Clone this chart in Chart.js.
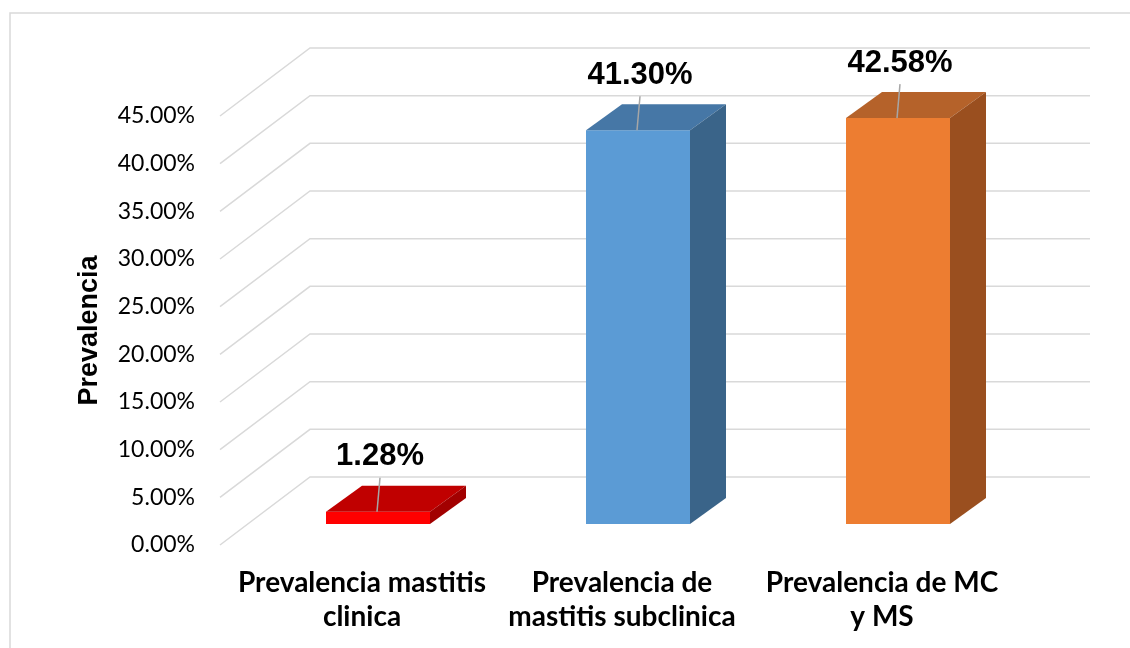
<!DOCTYPE html>
<html>
<head>
<meta charset="utf-8">
<script src="https://cdn.jsdelivr.net/npm/chart.js"></script>
<style>
body { margin: 0; background: #fff; }
</style>
</head>
<body>
<canvas id="barChart" width="1130" height="648"></canvas>
<script>
var categories = [
    ['Prevalencia mastitis', 'clinica'],
    ['Prevalencia de', 'mastitis subclinica'],
    ['Prevalencia de MC', 'y MS']
];
var prevalence = [1.28, 41.30, 42.58];
var yTicks = [0, 5, 10, 15, 20, 25, 30, 35, 40, 45];

var frontColors = ['#FF0000', '#5B9BD5', '#ED7D31'];
var topColors = ['#C00000', '#4677A6', '#B5622A'];
var sideColors = ['#A20000', '#3A6489', '#9A4F1F'];

// fake 3d: depth of the walls and of the bars
var wallDx = 90, wallDy = 68;
var barShiftX = 28, barShiftY = 21;
var barDx = 36, barDy = 26;

var fake3d = {
    id: 'fake3d',
    beforeDraw: function (chart) {
        var ctx = chart.ctx;
        var a = chart.chartArea, ys = chart.scales.y;
        ctx.save();
        ctx.strokeStyle = '#D9D9D9';
        ctx.lineWidth = 1.5;
        ctx.strokeRect(10, 13, 1200, 700);
        ys.ticks.forEach(function (t) {
            var y = ys.getPixelForValue(t.value);
            ctx.beginPath();
            ctx.moveTo(a.left, y);
            ctx.lineTo(a.left + wallDx, y - wallDy);
            ctx.lineTo(a.right + wallDx, y - wallDy);
            ctx.stroke();
        });
        ctx.restore();
    },
    beforeDatasetsDraw: function (chart) {
        chart.ctx.save();
        chart.ctx.translate(barShiftX, -barShiftY);
    },
    afterDatasetsDraw: function (chart) {
        var ctx = chart.ctx;
        var bars = chart.getDatasetMeta(0).data;
        bars.forEach(function (bar, i) {
            var l = bar.x - bar.width / 2, r = bar.x + bar.width / 2;
            ctx.fillStyle = topColors[i];
            ctx.beginPath();
            ctx.moveTo(l, bar.y);
            ctx.lineTo(r, bar.y);
            ctx.lineTo(r + barDx, bar.y - barDy);
            ctx.lineTo(l + barDx, bar.y - barDy);
            ctx.closePath();
            ctx.fill();
            ctx.fillStyle = sideColors[i];
            ctx.beginPath();
            ctx.moveTo(r, bar.y);
            ctx.lineTo(r, bar.base);
            ctx.lineTo(r + barDx, bar.base - barDy);
            ctx.lineTo(r + barDx, bar.y - barDy);
            ctx.closePath();
            ctx.fill();
        });
        ctx.restore();

        // value labels with leader lines
        ctx.save();
        bars.forEach(function (bar, i) {
            var cx = bar.x + barShiftX, ty = bar.y - barShiftY;
            ctx.strokeStyle = '#A6A6A6';
            ctx.lineWidth = 1.5;
            ctx.beginPath();
            ctx.moveTo(cx + 2, ty - 34);
            ctx.lineTo(cx - 1, ty);
            ctx.stroke();
            ctx.fillStyle = '#000';
            ctx.font = 'bold 31px "Liberation Sans", Arial, sans-serif';
            ctx.textAlign = 'center';
            ctx.textBaseline = 'middle';
            ctx.fillText(prevalence[i].toFixed(2) + '%', cx + 2, ty - 55);
        });
        ctx.restore();
    }
};

var mychart = document.getElementById('barChart').getContext('2d');

new Chart(mychart, {
    type: 'bar',
    data: {
        labels: categories,
        datasets: [{
            label: 'Prevalencia',
            data: prevalence,
            backgroundColor: frontColors,
            borderWidth: 0,
            categoryPercentage: 0.8,
            barPercentage: 0.5,
            clip: false
        }]
    },
    options: {
        responsive: false,
        devicePixelRatio: 1,
        animation: false,
        layout: { padding: { left: 69, top: 116, right: 130, bottom: 0 } },
        plugins: {
            legend: { display: false },
            tooltip: { enabled: false }
        },
        scales: {
            x: {
                grid: { display: false, drawTicks: false },
                border: { display: false },
                afterFit: function (axis) { axis.height = 103; },
                ticks: {
                    autoSkip: false,
                    maxRotation: 0,
                    padding: 21,
                    labelOffset: 12,
                    color: '#000',
                    font: { family: 'Lato', size: 28, weight: 'bold', lineHeight: 1.22 }
                }
            },
            y: {
                min: 0,
                max: 45,
                grid: { display: false, drawTicks: false },
                border: { display: false },
                afterBuildTicks: function (axis) {
                    axis.ticks = yTicks.map(function (v) { return { value: v }; });
                },
                afterFit: function (axis) { axis.width = 151; },
                ticks: {
                    padding: 25,
                    color: '#000',
                    font: { family: 'Lato', size: 23 },
                    callback: function (v) { return v.toFixed(2) + '%'; }
                },
                title: {
                    display: true,
                    text: 'Prevalencia',
                    color: '#000',
                    font: { family: 'Liberation Sans', size: 27, weight: 'bold' },
                    padding: { top: 4, bottom: 4 }
                }
            }
        }
    },
    plugins: [fake3d]
});
</script>
</body>
</html>
